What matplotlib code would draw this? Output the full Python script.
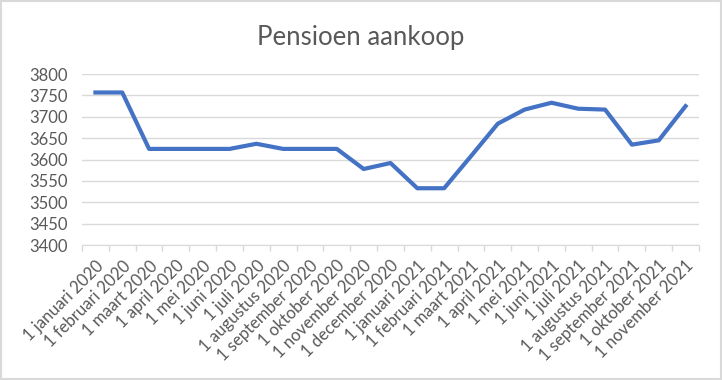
import matplotlib.pyplot as plt
from matplotlib.patches import Rectangle

plt.rcParams['font.family'] = ['Lato', 'DejaVu Sans']

maanden = ["1 januari 2020", "1 februari 2020", "1 maart 2020", "1 april 2020",
           "1 mei 2020", "1 juni 2020", "1 juli 2020", "1 augustus 2020",
           "1 september 2020", "1 oktober 2020", "1 november 2020", "1 december 2020",
           "1 januari 2021", "1 februari 2021", "1 maart 2021", "1 april 2021",
           "1 mei 2021", "1 juni 2021", "1 juli 2021", "1 augustus 2021",
           "1 september 2021", "1 oktober 2021", "1 november 2021"]
bedrag = [3757, 3757, 3625, 3625, 3625, 3625, 3637, 3625, 3625, 3625, 3578, 3592,
          3533, 3533, 3608, 3684, 3717, 3733, 3719, 3717, 3635, 3645, 3725]
y_ticks = [3400, 3450, 3500, 3550, 3600, 3650, 3700, 3750, 3800]

grijs = "#595959"
fig = plt.figure(figsize=(7.22, 3.80), dpi=100)
ax = fig.add_axes([0.1136, 0.355, 0.8545, 0.45])

x = list(range(len(maanden)))
ax.plot(x, bedrag, color="#4472C4", linewidth=3.0, solid_joinstyle="round", zorder=3)

ax.set_ylim(3400, 3800)
ax.set_xlim(-0.5, len(maanden) - 0.5)
ax.set_yticks(y_ticks)
ax.yaxis.grid(True, color="#D9D9D9", linewidth=1)
ax.set_axisbelow(True)
ax.tick_params(axis="y", length=0, labelsize=12, labelcolor=grijs, pad=10)

ax.set_xticks(x)
ax.set_xticklabels(maanden, rotation=45, ha="right", rotation_mode="anchor",
                   fontsize=12, color=grijs)
ax.tick_params(axis="x", which="major", length=0, pad=9)
ax.set_xticks([i - 0.5 for i in range(len(maanden) + 1)], minor=True)
ax.tick_params(axis="x", which="minor", length=4, color="#D9D9D9", width=1)

for s in ["top", "right", "left"]:
    ax.spines[s].set_visible(False)
ax.spines["bottom"].set_color("#D9D9D9")

fig.text(0.5, 0.9, "Pensioen aankoop", ha="center", va="center",
         fontsize=18.5, color=grijs)

fig.patches.append(Rectangle((0.002, 0.003), 0.996, 0.994, transform=fig.transFigure,
                             fill=False, edgecolor="#D9D9D9", linewidth=1.5))

fig.savefig("out.png", dpi=100)
